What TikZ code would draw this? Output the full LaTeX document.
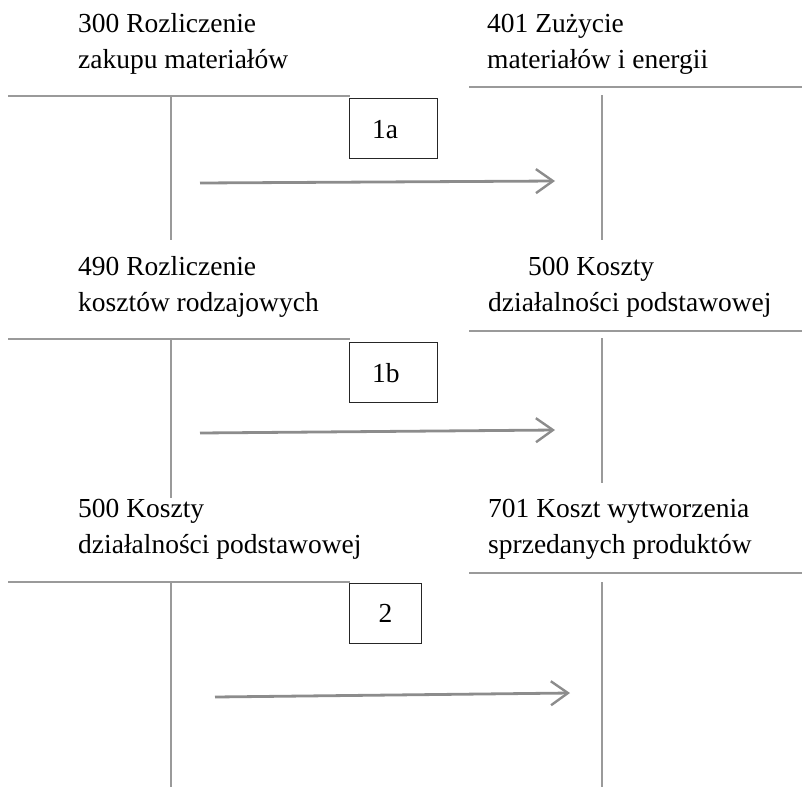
\documentclass[tikz,border=0pt]{standalone}
\usepackage{fontspec}
\setmainfont{Liberation Serif}
\usetikzlibrary{arrows.meta}
\definecolor{tline}{HTML}{9A9A9A}
\definecolor{aline}{HTML}{8C8C8C}
\begin{document}
\begin{tikzpicture}[x=1pt,y=-1pt,
  lbl/.style={anchor=base west,inner sep=0pt,font=\fontsize{27.5}{33}\selectfont,text=black},
  tacc/.style={draw=tline,line width=1.8pt},
  flow/.style={draw=aline,line width=2.8pt,-{Straight Barb[length=17pt,width=24pt,line width=2.4pt]}},
  numbox/.style={draw=black!85,line width=1pt,inner sep=0pt,anchor=north west},
  numtxt/.style={font=\fontsize{27.5}{33}\selectfont,inner sep=0pt,text=black}
]
\useasboundingbox (0,0) rectangle (802,787);

% ---- Block 1
\node[lbl] (l1a) at (78,32) {300 Rozliczenie};
\node[lbl] (l1b) at (78,68) {zakupu materiałów};
\node[lbl] (r1a) at (487,32) {401 Zużycie};
\node[lbl] (r1b) at (487,68) {materiałów i energii};
\draw[tacc] (8,96) -- (350,96);
\draw[tacc] (171,96) -- (171,240);
\draw[tacc] (469,87) -- (802,87);
\draw[tacc] (602,95) -- (602,240);
\node[numbox,minimum width=88pt,minimum height=60pt] (b1) at (349,98) {};
\node[numtxt,anchor=base west] (t1) at (372,138) {1a};
\coordinate (s1) at (200,183);
\coordinate (e1) at (555,181);
\draw[flow] (s1) -- (e1);

% ---- Block 2
\node[lbl] (l2a) at (78,275) {490 Rozliczenie};
\node[lbl] (l2b) at (78,311) {kosztów rodzajowych};
\node[lbl] (r2a) at (528,275) {500 Koszty};
\node[lbl] (r2b) at (488,311) {działalności podstawowej};
\draw[tacc] (8,339) -- (350,339);
\draw[tacc] (171,339) -- (171,498);
\draw[tacc] (469,331) -- (802,331);
\draw[tacc] (602,338) -- (602,483);
\node[numbox,minimum width=88pt,minimum height=60pt] (b2) at (349,342) {};
\node[numtxt,anchor=base west] (t2) at (372,382) {1b};
\coordinate (s2) at (200,433);
\coordinate (e2) at (555,430);
\draw[flow] (s2) -- (e2);

% ---- Block 3
\node[lbl] (l3a) at (78,517) {500 Koszty};
\node[lbl] (l3b) at (78,553) {działalności podstawowej};
\node[lbl] (r3a) at (488,517) {701 Koszt wytworzenia};
\node[lbl] (r3b) at (488,553) {sprzedanych produktów};
\draw[tacc] (8,582) -- (350,582);
\draw[tacc] (171,582) -- (171,787);
\draw[tacc] (469,573) -- (802,573);
\draw[tacc] (602,582) -- (602,787);
\node[numbox,minimum width=72pt,minimum height=60pt] (b3) at (349,583) {};
\node[numtxt] (t3) at (b3.center) {2};
\coordinate (s3) at (215,697);
\coordinate (e3) at (570,693);
\draw[flow] (s3) -- (e3);
\end{tikzpicture}
\end{document}
